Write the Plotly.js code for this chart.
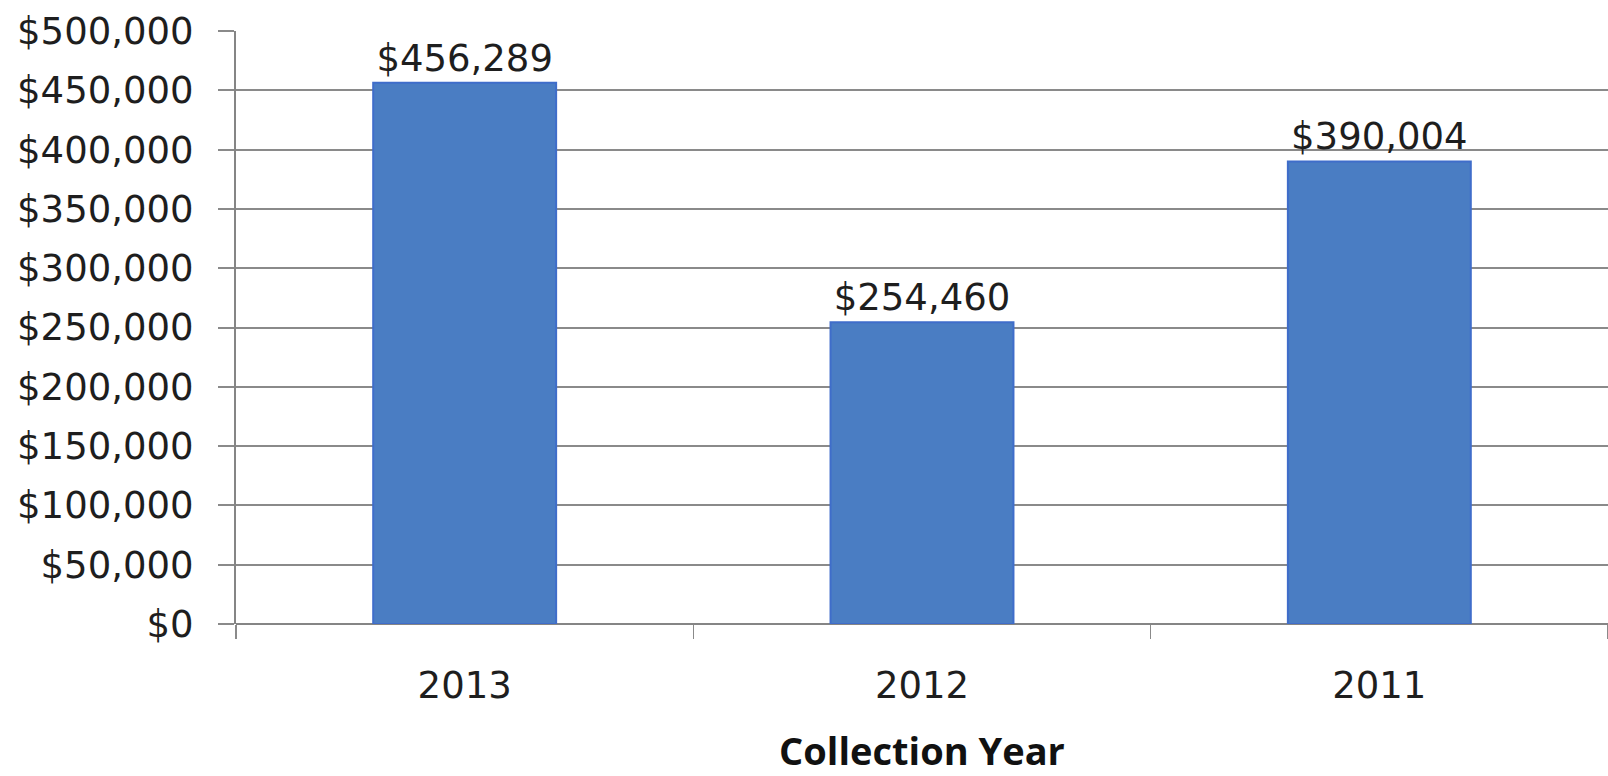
<!DOCTYPE html>
<html>
<head>
<meta charset="utf-8">
<script src="https://cdn.plot.ly/plotly-3.0.1.min.js"></script>
<style>
  html, body { margin: 0; padding: 0; background: #ffffff; overflow: hidden; }
  #chart { width: 1608px; height: 776px; }
</style>
</head>
<body>
<div id="chart"></div>
<script>
const years = ["2013", "2012", "2011"];
const collections = [456289, 254460, 390004];
const barLabels = ["$456,289", "$254,460", "$390,004"];
const yTickValues = [0, 50000, 100000, 150000, 200000, 250000, 300000, 350000, 400000, 450000, 500000];
const yTickLabels = ["$0", "$50,000", "$100,000", "$150,000", "$200,000", "$250,000", "$300,000", "$350,000", "$400,000", "$450,000", "$500,000"];
const xTitle = "Collection Year";

const trace = {
  type: "bar",
  x: years,
  y: collections,
  text: barLabels,
  textposition: "outside",
  textfont: { family: "DejaVu Sans", size: 37, color: "#1e1e1e" },
  cliponaxis: false,
  marker: { color: "#4a7dc3", line: { color: "#3f6dca", width: 2 } },
  hoverinfo: "none"
};

const layout = {
  width: 1608,
  height: 776,
  margin: { l: 236, r: 0, t: 31, b: 152 },
  paper_bgcolor: "#ffffff",
  plot_bgcolor: "#ffffff",
  bargap: 0.6,
  showlegend: false,
  xaxis: {
    type: "category",
    range: [-0.5, 2.5],
    showgrid: false,
    zeroline: false,
    showline: false,
    ticks: "outside",
    tickson: "boundaries",
    ticklen: 14,
    tickwidth: 1.5,
    tickcolor: "#8a8a8a",
    ticklabelstandoff: 36,
    tickfont: { family: "DejaVu Sans", size: 37, color: "#1e1e1e" },
    title: { text: "<b>" + xTitle + "</b>", font: { family: "Open Sans", size: 38, color: "#111111" }, standoff: 39 },
    automargin: true,
    fixedrange: true
  },
  yaxis: {
    range: [0, 500000],
    tickvals: yTickValues,
    ticktext: yTickLabels,
    showgrid: true,
    gridcolor: "#8a8a8a",
    gridwidth: 2,
    zeroline: true,
    zerolinecolor: "#858585",
    zerolinewidth: 2,
    showline: true,
    linecolor: "#858585",
    linewidth: 2,
    ticks: "outside",
    ticklen: 16,
    tickwidth: 2,
    tickcolor: "#8a8a8a",
    ticklabelstandoff: 17,
    tickfont: { family: "DejaVu Sans", size: 37, color: "#1e1e1e" },
    fixedrange: true
  }
};

Plotly.newPlot("chart", [trace], layout, { displayModeBar: false, staticPlot: true });
</script>
</body>
</html>
